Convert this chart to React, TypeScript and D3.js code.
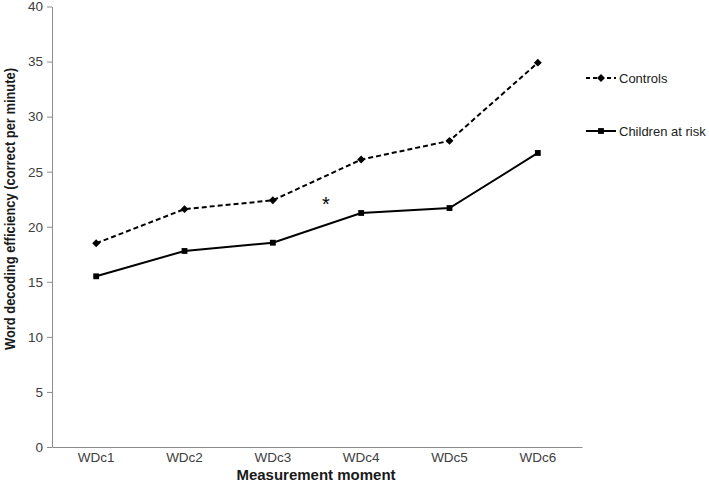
import React, { useEffect, useRef } from "react";
import * as d3 from "d3";

const moments = ["WDc1", "WDc2", "WDc3", "WDc4", "WDc5", "WDc6"];
const controls = [18.5, 21.6, 22.4, 26.1, 27.8, 34.9];
const atRisk = [15.5, 17.8, 18.55, 21.25, 21.7, 26.7];
const yTicks = [0, 5, 10, 15, 20, 25, 30, 35, 40];
const seriesNames = ["Controls", "Children at risk"];

const App = () => {
  const svgRef = useRef<SVGSVGElement>(null);

  useEffect(() => {
    const width = 709;
    const height = 482;
    const left = 52;
    const right = 582;
    const top = 6.5;
    const bottom = 447;
    const font = "'Liberation Sans', Arial, sans-serif";

    const svg = d3.select(svgRef.current).attr("width", width).attr("height", height);
    svg.selectAll("*").remove();

    const x = d3.scaleBand().domain(moments).range([left, right]);
    const y = d3.scaleLinear().domain([0, 40]).range([bottom, top]);
    const cx = (m: string) => (x(m) as number) + x.bandwidth() / 2;

    // y axis
    const yAxis = svg
      .append("g")
      .attr("transform", `translate(${left},0)`)
      .call(d3.axisLeft(y).tickValues(yTicks).tickSize(5).tickSizeOuter(0).tickPadding(4));
    yAxis.select(".domain").attr("stroke", "#8c8c8c");
    yAxis.selectAll(".tick line").attr("stroke", "#8c8c8c");
    yAxis
      .selectAll(".tick text")
      .attr("font-family", font)
      .attr("font-size", 13.5)
      .attr("fill", "#404040");

    // x axis
    const xAxis = svg
      .append("g")
      .attr("transform", `translate(0,${bottom})`)
      .call(d3.axisBottom(x).tickSize(0).tickSizeOuter(0).tickPadding(5));
    xAxis.select(".domain").attr("stroke", "#8c8c8c");
    xAxis
      .selectAll(".tick text")
      .attr("font-family", font)
      .attr("font-size", 13.5)
      .attr("fill", "#404040");

    // axis titles
    svg
      .append("text")
      .attr("x", 316)
      .attr("y", 480)
      .attr("text-anchor", "middle")
      .attr("font-family", font)
      .attr("font-size", 15)
      .attr("font-weight", "bold")
      .attr("fill", "#1a1a1a")
      .text("Measurement moment");

    svg
      .append("text")
      .attr("transform", `translate(14.5,209) rotate(-90)`)
      .attr("text-anchor", "middle")
      .attr("font-family", font)
      .attr("font-size", 14)
      .attr("font-weight", "bold")
      .attr("textLength", 282)
      .attr("lengthAdjust", "spacingAndGlyphs")
      .attr("fill", "#1a1a1a")
      .text("Word decoding efficiency (correct per minute)");

    const line = d3
      .line<number>()
      .x((_, i) => cx(moments[i]))
      .y((d) => y(d));

    const diamondType = (d3 as any).symbolDiamond2 || d3.symbolDiamond;
    const diamond = d3.symbol().type(diamondType).size(40);
    const square = d3.symbol().type(d3.symbolSquare).size(34);

    // controls (dashed, diamonds)
    svg
      .append("path")
      .attr("d", line(controls))
      .attr("fill", "none")
      .attr("stroke", "#000")
      .attr("stroke-width", 2)
      .attr("stroke-dasharray", "5,3");
    svg
      .selectAll(".ctrl")
      .data(controls)
      .enter()
      .append("path")
      .attr("transform", (d, i) => `translate(${cx(moments[i])},${y(d)})`)
      .attr("d", diamond)
      .attr("fill", "#000");

    // children at risk (solid, squares)
    svg
      .append("path")
      .attr("d", line(atRisk))
      .attr("fill", "none")
      .attr("stroke", "#000")
      .attr("stroke-width", 2);
    svg
      .selectAll(".risk")
      .data(atRisk)
      .enter()
      .append("path")
      .attr("transform", (d, i) => `translate(${cx(moments[i])},${y(d)})`)
      .attr("d", square)
      .attr("fill", "#000");

    // significance asterisk
    svg
      .append("text")
      .attr("x", (cx("WDc3") + cx("WDc4")) / 2 + 9)
      .attr("y", y(22.4) + 11)
      .attr("text-anchor", "middle")
      .attr("font-family", font)
      .attr("font-size", 20)
      .attr("fill", "#000")
      .text("*");

    // legend
    const legend = svg.append("g").attr("transform", "translate(586,0)");
    const legendY = [78, 131];
    seriesNames.forEach((name, i) => {
      const g = legend.append("g").attr("transform", `translate(0,${legendY[i]})`);
      g.append("line")
        .attr("x1", 0)
        .attr("x2", 30)
        .attr("stroke", "#000")
        .attr("stroke-width", 2)
        .attr("stroke-dasharray", i === 0 ? "4,3" : null);
      g.append("path")
        .attr("transform", "translate(15,0)")
        .attr("d", i === 0 ? diamond : square)
        .attr("fill", "#000");
      g.append("text")
        .attr("x", 33)
        .attr("y", 5)
        .attr("font-family", font)
        .attr("font-size", 13)
        .attr("fill", "#222")
        .text(name);
    });
  }, []);

  return <svg ref={svgRef} style={{ position: "absolute", left: 0, top: 0 }}></svg>;
};

export default App;
